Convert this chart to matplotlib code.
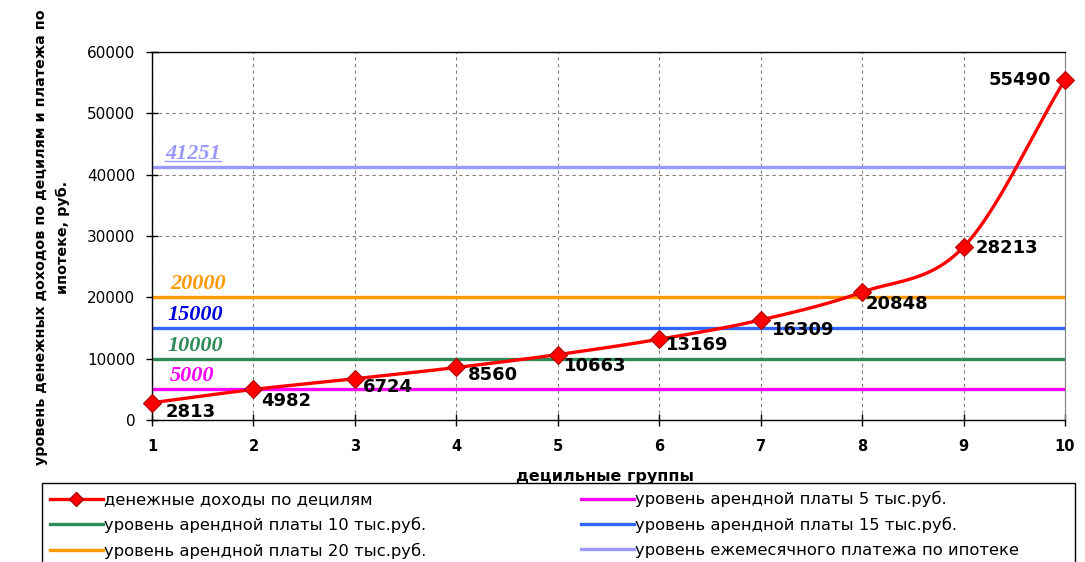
import matplotlib
matplotlib.use('Agg')

import numpy as np
import matplotlib.pyplot as plt
from matplotlib.lines import Line2D
from matplotlib.patches import Rectangle
from matplotlib.transforms import IdentityTransform

plt.rcParams['font.family'] = ['DejaVu Sans']

# data
deciles = [1, 2, 3, 4, 5, 6, 7, 8, 9, 10]
income = [2813, 4982, 6724, 8560, 10663, 13169, 16309, 20848, 28213, 55490]
rent_5 = 5000
rent_10 = 10000
rent_15 = 15000
rent_20 = 20000
mortgage = 41251

series_names = [
    "денежные доходы по децилям",
    "уровень арендной платы 5 тыс.руб.",
    "уровень арендной платы 10 тыс.руб.",
    "уровень арендной платы 15 тыс.руб.",
    "уровень арендной платы 20 тыс.руб.",
    "уровень ежемесячного платежа по ипотеке",
]

# label offsets in pixels (dx, dy, ha)
label_offsets = [
    (14, -9, 'left'), (8, -12, 'left'), (8, -8, 'left'), (12, -8, 'left'),
    (6, -11, 'left'), (7, -6, 'left'), (11, -10, 'left'), (4, -12, 'left'),
    (12, -1, 'left'), (-14, 0, 'right'),
]


def smooth(x, y, n=30):
    # Catmull-Rom style spline through the points (like Excel's smoothed line)
    x = np.asarray(x, float)
    y = np.asarray(y, float)
    m = np.zeros_like(y)
    m[1:-1] = (y[2:] - y[:-2]) / (x[2:] - x[:-2])
    m[0] = y[1] - y[0]
    m[-1] = y[-1] - y[-2]
    xs, ys = [], []
    for i in range(len(x) - 1):
        t = np.linspace(0, 1, n)
        h = x[i + 1] - x[i]
        h00 = 2 * t**3 - 3 * t**2 + 1
        h10 = t**3 - 2 * t**2 + t
        h01 = -2 * t**3 + 3 * t**2
        h11 = t**3 - t**2
        xs.append(x[i] + t * h)
        ys.append(h00 * y[i] + h10 * h * m[i] + h01 * y[i + 1] + h11 * h * m[i + 1])
    return np.concatenate(xs), np.concatenate(ys)


fig = plt.figure(figsize=(10.85, 5.62), dpi=100)
ax = fig.add_axes([152 / 1085, 1 - 420 / 562, (1065 - 152) / 1085, (420 - 52) / 562])

ax.set_xlim(1, 10)
ax.set_ylim(0, 60000)
ax.set_xticks(deciles)
ax.set_yticks(range(0, 60001, 10000))
ax.grid(True, color='#808080', linestyle=(0, (3, 3)), linewidth=0.8)
ax.set_axisbelow(True)

levels = [
    (rent_5, '#FF00FF', '#FF00FF', 18),
    (rent_10, '#2E8B57', '#2E8B57', 15),
    (rent_15, '#3366FF', '#0000DD', 15),
    (rent_20, '#FF9900', '#FF9900', 18),
    (mortgage, '#9999FF', '#9999FF', 13),
]
level_handles = []
for val, lc, tc, dx in levels:
    h, = ax.plot(deciles, [val] * len(deciles), color=lc, linewidth=2.4, zorder=2)
    level_handles.append(h)
    t = ax.annotate(str(val), (1, val), xytext=(dx, 3), textcoords='offset pixels',
                    ha='left', va='bottom', color=tc, fontsize=16,
                    fontweight='bold', fontstyle='italic',
                    family=['Liberation Serif', 'DejaVu Serif'], zorder=4)
    if val == mortgage:
        mortgage_label = t

sx, sy = smooth(deciles, income)
ax.plot(sx, sy, color='#FF0000', linewidth=2.4, zorder=3, clip_on=False)
ax.plot(deciles, income, linestyle='none', marker='D', markersize=9,
        markerfacecolor='#FF0000', markeredgecolor='#B00000', markeredgewidth=0.8,
        zorder=5, clip_on=False)
income_handle = Line2D([], [], color='#FF0000', linewidth=2.4, marker='D',
                       markersize=7, markerfacecolor='#FF0000',
                       markeredgecolor='#B00000')

for xv, yv, (dx, dy, ha) in zip(deciles, income, label_offsets):
    ax.annotate(str(yv), (xv, yv), xytext=(dx, dy), textcoords='offset pixels',
                ha=ha, va='center', fontsize=13, fontweight='bold', color='black',
                zorder=6)

for s in ['left', 'bottom', 'top']:
    ax.spines[s].set_color('black')
    ax.spines[s].set_linewidth(1.0)
ax.spines['right'].set_color('#808080')

ax.tick_params(axis='y', direction='inout', length=8, width=1, labelsize=11, pad=8)
ax.tick_params(axis='x', direction='inout', length=8, width=1, labelsize=10.5, pad=10)
for lbl in ax.get_xticklabels():
    lbl.set_fontweight('bold')

fig.text(605 / 1085, 1 - 476 / 562, "децильные группы", ha='center', va='center',
         fontsize=11.5, fontweight='bold')
fig.text(52 / 1085, 1 - 237 / 562,
         "уровень денежных доходов по децилям и платежа по\nипотеке, руб.",
         rotation=90, ha='center', va='center', fontsize=10.3, fontweight='bold',
         multialignment='center', linespacing=1.7)

# column-wise fill: left column first, then right column
handles = [income_handle, level_handles[1], level_handles[3],
           level_handles[0], level_handles[2], level_handles[4]]
labels = [series_names[0], series_names[2], series_names[4],
          series_names[1], series_names[3], series_names[5]]
leg = fig.legend(handles, labels, loc='upper left',
                 bbox_to_anchor=(42 / 1085, 1 - 483 / 562), ncol=2,
                 fontsize=11.8, frameon=False,
                 handlelength=3.2, handletextpad=0.1, columnspacing=9.45,
                 labelspacing=0.58, borderpad=0.5, borderaxespad=0)

# legend box, running past the bottom edge as in the original
fig.add_artist(Rectangle((42 / 1085, -0.05), (1075 - 42) / 1085, 0.05 + 79 / 562,
                         transform=fig.transFigure, fill=False,
                         edgecolor='black', linewidth=1.0))

# underline the mortgage level label
fig.canvas.draw()
bb = mortgage_label.get_window_extent()
fig.add_artist(Line2D([bb.x0, bb.x1], [bb.y0 + 3, bb.y0 + 3], color='#9999FF',
                      linewidth=1, transform=IdentityTransform()))

fig.savefig('out.png', dpi=100)
